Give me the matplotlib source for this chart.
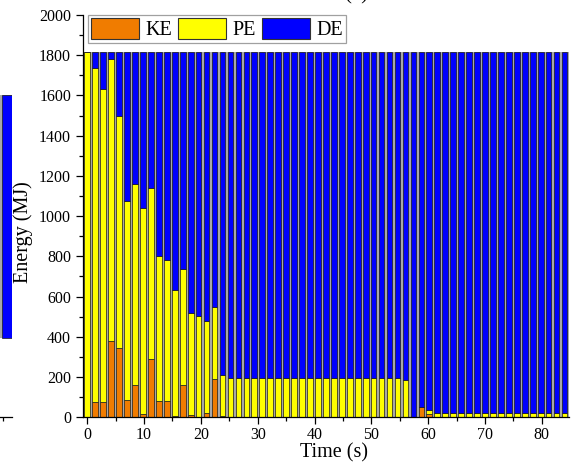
import numpy as np
import matplotlib
matplotlib.use('Agg')
import matplotlib.pyplot as plt
from matplotlib.ticker import MultipleLocator
from matplotlib.patches import Patch

plt.rcParams['font.family'] = ['Liberation Serif', 'DejaVu Serif']
plt.rcParams['mathtext.fontset'] = 'stix'

# energy budget, one bar per output step (MJ)
dt = 1.4
total = 1815
ke = [0, 75, 75, 379, 343, 86, 160, 15, 288, 81,
      81, 5, 159, 13, 0, 20, 189, 5] + [0] * 24 + [53, 16] + [0] * 17
pe = [1815, 1662, 1555, 1400, 1153, 989, 1000, 1025, 852, 719,
      699, 630, 576, 507, 502, 457, 361, 205] + [196] * 22 + [185, 0, 0, 20] + [23] * 17

ke = np.array(ke, dtype=float)
pe = np.array(pe, dtype=float)
de = total - ke - pe
t = np.arange(len(ke)) * dt

c_ke = '#f07c00'
c_pe = '#ffff00'
c_de = '#0000ff'

fig = plt.figure(figsize=(5.72, 4.73), dpi=100)

# neighbouring panel, only its right edge falls inside the figure
ax0 = fig.add_axes([-0.2, 0.1178, 0.2 + 12 / 572, 0.8505])
ax0.patch.set_visible(False)
frag_lo = [395, 395]
frag_hi = [1600, 1600]
frag_t = [0, 1]
ax0.bar(frag_t, np.array(frag_hi) - np.array(frag_lo), bottom=frag_lo, width=1.0,
        color='#a8a8a8', linewidth=0, zorder=1)
ax0.bar(frag_t, np.array(frag_hi) - np.array(frag_lo), bottom=frag_lo, width=0.72,
        color=c_de, edgecolor='#1a1a1a', linewidth=0.5, zorder=2)
ax0.set_xlim(-6, 1.2)
ax0.set_ylim(0, 2000)
ax0.set_xticks([0.68])
ax0.set_xticklabels([])
ax0.set_yticks([])
ax0.tick_params(axis='x', direction='out', length=2.6, width=0.9)
for s in ['top', 'right', 'left']:
    ax0.spines[s].set_visible(False)
ax0.spines['bottom'].set_linewidth(0.9)

ax = fig.add_axes([0.1456, 0.1178, 0.8483, 0.8505])
ax.patch.set_visible(False)

w = 1.0
ax.bar(t, ke + pe + de, width=dt, color='#a8a8a8', linewidth=0, zorder=1)
kw = dict(width=w, edgecolor='#1a1a1a', linewidth=0.5, zorder=2)
ax.bar(t, ke, color=c_ke, **kw)
ax.bar(t, pe, bottom=ke, color=c_pe, **kw)
ax.bar(t, de, bottom=ke + pe, color=c_de, **kw)

ax.set_xlim(-0.7, 84.7)
ax.set_ylim(0, 2000)
ax.xaxis.set_major_locator(MultipleLocator(10))
ax.xaxis.set_minor_locator(MultipleLocator(5))
ax.yaxis.set_major_locator(MultipleLocator(200))
ax.yaxis.set_minor_locator(MultipleLocator(100))
ax.tick_params(which='both', direction='out', width=0.9, labelsize=11.5)
ax.tick_params(which='major', length=4.8)
ax.tick_params(which='minor', length=2.6)
ax.tick_params(axis='x', pad=2)
ax.tick_params(axis='y', pad=4)
for s in ['top', 'right']:
    ax.spines[s].set_visible(False)
for s in ['left', 'bottom']:
    ax.spines[s].set_linewidth(0.9)

ax.set_xlabel('Time (s)', fontsize=14.5, labelpad=1)
ax.xaxis.set_label_coords(0.517, -0.065)
ax.set_ylabel('Energy (MJ)', fontsize=14.5)
ax.yaxis.set_label_coords(-0.103, 0.46)

handles = [Patch(facecolor=c, edgecolor='#333333', linewidth=0.8) for c in (c_ke, c_pe, c_de)]
leg = ax.legend(handles, ['KE', 'PE', 'DE'], ncol=3, loc='upper left',
                bbox_to_anchor=(0.009, 1.0), fontsize=14.5, frameon=True,
                fancybox=False, framealpha=1, edgecolor='#a0a0a0',
                handlelength=2.4, handleheight=1.2, handletextpad=0.3,
                columnspacing=0.3, borderpad=0.15, borderaxespad=0)
leg.get_frame().set_linewidth(0.9)

fig.text(0.623, 1.0 + 1 / 473, '(b)', fontsize=15, ha='center', va='baseline')

fig.savefig('out.png', dpi=100)
